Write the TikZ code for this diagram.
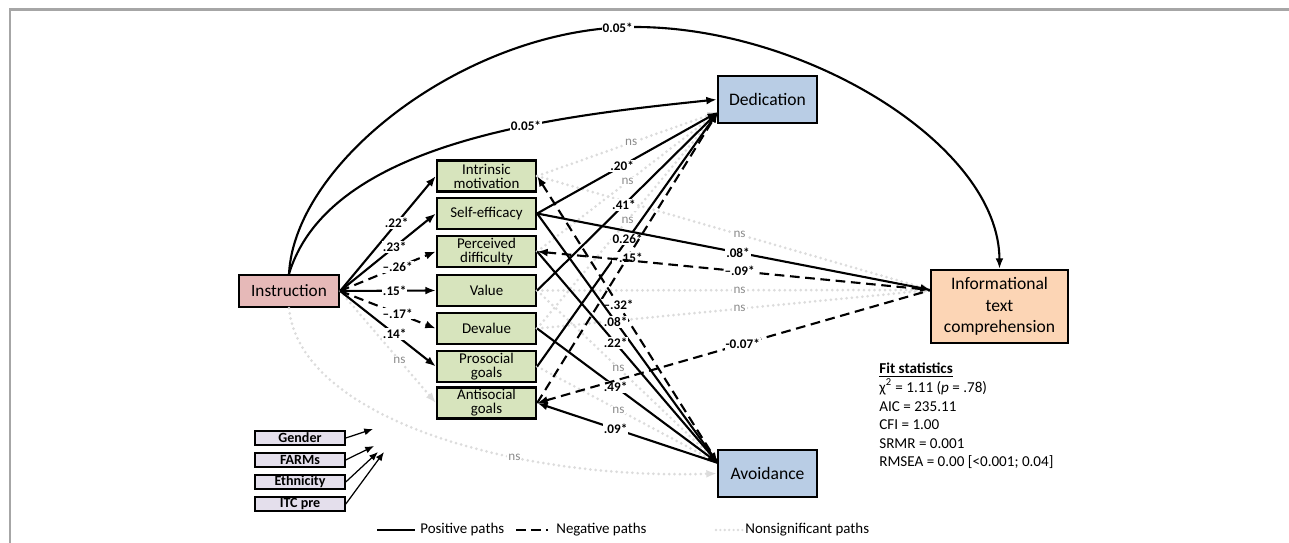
\documentclass[tikz,border=0pt]{standalone}
\usepackage{fontspec}
\setmainfont{Carlito}
\usetikzlibrary{arrows.meta}

\definecolor{instrred}{HTML}{E6B9B8}
\definecolor{medgreen}{HTML}{D7E4BD}
\definecolor{outblue}{HTML}{B9CDE5}
\definecolor{itcorange}{HTML}{FCD5B5}
\definecolor{covpurple}{HTML}{E4DFEC}
\definecolor{nsgray}{HTML}{DCDCDC}
\definecolor{nstext}{HTML}{8C8C8C}
\definecolor{framegray}{HTML}{A6A6A6}

\begin{document}
\begin{tikzpicture}[x=0.02cm, y=-0.02cm,
    >={Latex[length=6pt,width=4.5pt]},
    box/.style={draw, line width=1.3pt, align=center, inner sep=1pt},
    medbox/.style={box, fill=medgreen, minimum width=1.98cm, minimum height=0.62cm, inner sep=0.3pt, font=\fontsize{8.5}{7.9}\selectfont},
    outbox/.style={box, fill=outblue, minimum width=1.98cm, minimum height=0.94cm, font=\fontsize{10}{12}\selectfont},
    covbox/.style={draw, line width=0.9pt, fill=covpurple, minimum width=1.8cm, minimum height=0.28cm, inner sep=0pt, font=\bfseries\fontsize{8}{8}\selectfont},
    posarr/.style={->, line width=1.2pt},
    negarr/.style={->, line width=1.2pt, dash pattern=on 5.5pt off 3.2pt},
    nsarr/.style={->, nsgray, line width=1.7pt, dash pattern=on 0pt off 3pt, line cap=round},
    covarr/.style={-{Latex[length=5pt,width=4pt]}, line width=0.7pt},
    lbl/.style={fill=white, inner sep=0.6pt, text=black, font=\bfseries\fontsize{7.5}{8}\selectfont},
    nslbl/.style={fill=white, inner sep=0.6pt, text=nstext, font=\fontsize{7.5}{8}\selectfont},
    legtxt/.style={anchor=west, inner sep=0pt, font=\fontsize{8.5}{10}\selectfont}
]
\useasboundingbox (0,0) rectangle (1289,543);
\draw[framegray, line width=1.2pt] (10,543) -- (10,9.5) -- (1289,9.5);

% Predictor
\node[box, fill=instrred, minimum width=2cm, minimum height=0.64cm, font=\fontsize{9.8}{12}\selectfont] (instr) at (289,291) {Instruction};

% Mediators
\node[medbox] (im)    at (486.5,176)   {Intrinsic\\motivation};
\node[medbox] (se)    at (486.5,213.5) {Self-efficacy};
\node[medbox] (pd)    at (486.5,251.5) {Perceived\\difficulty};
\node[medbox] (val)   at (486.5,290.5) {Value};
\node[medbox] (deval) at (486.5,328.5) {Devalue};
\node[medbox] (pro)   at (486.5,366.5) {Prosocial\\goals};
\node[medbox] (anti)  at (486.5,403)   {Antisocial\\goals};

% Outcomes
\node[outbox] (ded) at (767.5,99.5)  {Dedication};
\node[outbox] (avo) at (767.5,473.5) {Avoidance};
\node[box, fill=itcorange, minimum width=2.74cm, minimum height=1.46cm, font=\fontsize{10}{12.3}\selectfont] (itc) at (999.5,306.5) {Informational\\text\\comprehension};
\coordinate (dedin) at (718,112);
\coordinate (avoin) at (718,463);
\coordinate (itcin) at (931,290);
\coordinate (peak)  at (635,27);

% Covariates
\node[covbox] (gen)    at (300,438) {Gender};
\node[covbox] (farm)   at (300,460) {FARMs};
\node[covbox] (eth)    at (300,482) {Ethnicity};
\node[covbox] (itcpre) at (300,504) {ITC pre};
\coordinate (cv1) at (373,429);
\coordinate (cv2) at (374,446);
\coordinate (cv3) at (378,452);
\coordinate (cv4) at (384,452);
\draw[covarr] (gen.east)    -- (cv1);
\draw[covarr] (farm.east)   -- (cv2);
\draw[covarr] (eth.east)    -- (cv3);
\draw[covarr] (itcpre.east) -- (cv4);

% Nonsignificant paths
\draw[nsarr] (instr.south) .. controls (300,420) and (520,480) .. node[nslbl, pos=0.655] {ns} (avo.west);
\draw[nsarr] (instr.east) -- node[nslbl, pos=0.62] {ns} (anti.west);
\draw[nsarr] (im.east)    -- node[nslbl, pos=0.52] {ns} (dedin);
\draw[nsarr] (pd.east)    -- node[nslbl, pos=0.5] {ns} (dedin);
\draw[nsarr] (deval.east) -- node[nslbl, pos=0.5] {ns} (dedin);
\draw[nsarr] (val.east)   -- node[nslbl, pos=0.45] {ns} (avoin);
\draw[nsarr] (pro.east)   -- node[nslbl, pos=0.45] {ns} (avoin);
\draw[nsarr] (im.east)    -- node[nslbl, pos=0.514] {ns} (itcin);
\draw[nsarr] (val.east)   -- node[nslbl, pos=0.514] {ns} (itcin);
\draw[nsarr] (deval.east) -- node[nslbl, pos=0.514] {ns} (itcin);

% Instruction -> mediators
\draw[posarr] (instr.east) -- node[lbl, pos=0.59] {.22*} (im.west);
\draw[posarr] (instr.east) -- node[lbl, pos=0.57] {.23*} (se.west);
\draw[negarr] (instr.east) -- node[lbl, pos=0.6] {--.26*} (pd.west);
\draw[posarr] (instr.east) -- node[lbl, pos=0.57] {.15*} (val.west);
\draw[negarr] (instr.east) -- node[lbl, pos=0.6] {--.17*} (deval.west);
\draw[posarr] (instr.east) -- node[lbl, pos=0.57] {.14*} (pro.west);

% Direct paths
\draw[posarr] (instr.north) .. controls (330,140) and (560,116) .. node[lbl, pos=0.63] {0.05*} (ded.west);
\draw[posarr] (instr.north) .. controls (295,160) and (470,27) .. node[lbl, pos=0.965] {0.05*} (peak)
    .. controls (805,27) and (999,145) .. (itc.north);

% Mediators -> Dedication
\draw[posarr] (se.east)   -- node[lbl, pos=0.47] {.20*} (dedin);
\draw[posarr] (val.east)  -- node[lbl, pos=0.48] {.41*} (dedin);
\draw[posarr] (pro.east)  -- node[lbl, pos=0.5] {0.26*} (dedin);
\draw[negarr] (anti.east) -- node[lbl, pos=0.5] {--.15*} (dedin);

% Mediators -> Avoidance
\draw[negarr, <-] (im.east) -- node[lbl, pos=0.45] {--.32*} (avoin);
\draw[posarr] (se.east)    -- node[lbl, pos=0.434] {.08*} (avoin);
\draw[posarr] (pd.east)    -- node[lbl, pos=0.434] {.22*} (avoin);
\draw[posarr] (deval.east) -- node[lbl, pos=0.434] {.49*} (avoin);
\draw[posarr, <-] (anti.east) -- node[lbl, pos=0.434] {.09*} (avoin);

% Mediators -> comprehension
\draw[posarr] (se.east)       -- node[lbl, pos=0.51] {.08*} (itcin);
\draw[negarr, <-] (pd.east)   -- node[lbl, pos=0.514] {--.09*} (itcin);
\draw[negarr, <-] (anti.east) -- node[lbl, pos=0.522] {-0.07*} (itcin);

% Fit statistics
\node[anchor=north west, align=left, inner sep=0pt, font=\fontsize{8.6}{10.55}\selectfont] (fit) at (879,363)
    {\underline{\textbf{Fit statistics}}\\
     χ\textsuperscript{2} = 1.11 (\textit{p} = .78)\\
     AIC = 235.11\\
     CFI = 1.00\\
     SRMR = 0.001\\
     RMSEA = 0.00 [<0.001; 0.04]};

% Legend
\node[legtxt] (lpos) at (420,530) {Positive paths};
\node[legtxt] (lneg) at (556,530) {Negative paths};
\node[legtxt] (lns)  at (745,530) {Nonsignificant paths};
\coordinate (lposa) at (377,530);
\coordinate (lnega) at (516,530);
\coordinate (lnsa)  at (716,530);
\draw[line width=1.2pt] (lposa) -- ([xshift=-0.1cm]lpos.west);
\draw[line width=1.2pt, dash pattern=on 5.5pt off 3pt on 5.5pt off 3pt on 1pt off 9pt] (lnega) -- ([xshift=-0.04cm]lneg.west);
\draw[nsgray, line width=1.5pt, dash pattern=on 0pt off 2.5pt, line cap=round] (lnsa) -- (lns.west);
\end{tikzpicture}
\end{document}
